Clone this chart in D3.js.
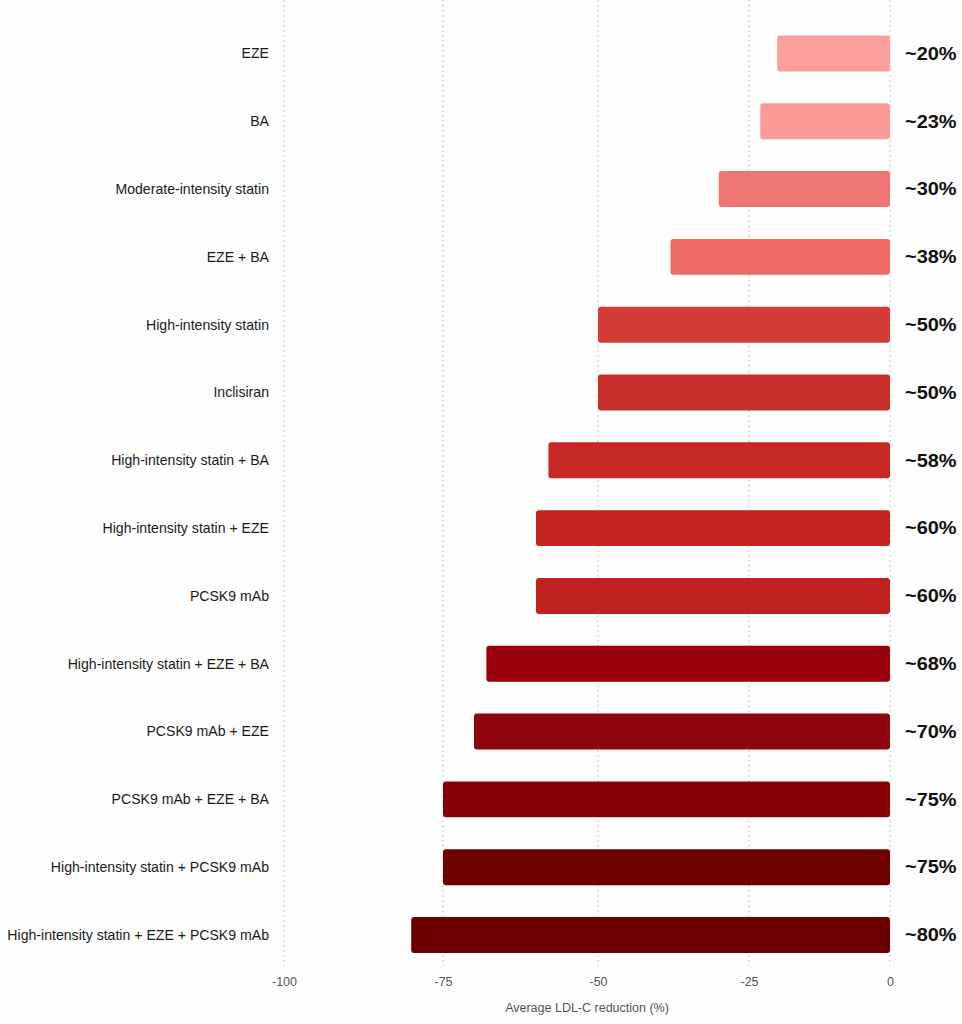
<!DOCTYPE html>
<html><head><meta charset="utf-8">
<script src="https://cdn.jsdelivr.net/npm/d3@7"></script>
<style>
html,body{margin:0;padding:0;background:#fdfdfd;}
svg{display:block;}
</style></head>
<body>
<svg id="chart" width="962" height="1024"></svg>
<script>
// ---- data ----
const categories = [
  "EZE","BA","Moderate-intensity statin","EZE + BA","High-intensity statin","Inclisiran",
  "High-intensity statin + BA","High-intensity statin + EZE","PCSK9 mAb",
  "High-intensity statin + EZE + BA","PCSK9 mAb + EZE","PCSK9 mAb + EZE + BA",
  "High-intensity statin + PCSK9 mAb","High-intensity statin + EZE + PCSK9 mAb"
];
const reductions = [-20,-23,-30,-38,-50,-50,-58,-60,-60,-68,-70,-75,-75,-80];
const valueLabels = ["~20%","~23%","~30%","~38%","~50%","~50%","~58%","~60%","~60%","~68%","~70%","~75%","~75%","~80%"];
const tickValues = [-100,-75,-50,-25,0];
const tickLabels = ["-100","-75","-50","-25","0"];
const axisTitle = "Average LDL-C reduction (%)";

// ---- styles ----
const palette = ["#fc9f9b","#fa9996","#ef7572","#ee6b68","#d63c37","#c92f2a","#c72825",
                 "#c42320","#c2221f","#990008","#8e0610","#870008","#6f0000","#6c0000"];

const svg = d3.select("#chart");

// x scale (piecewise to follow the reference's tick spacing)
const x = d3.scaleLinear().domain(tickValues).range([284, 443, 598, 749, 890]);
const y = d3.scaleBand().domain(categories).range([19.5, 968.9]).paddingInner(0.47).paddingOuter(0.235);

// gridlines
svg.append("g").selectAll("line").data(tickValues).join("line")
  .attr("x1", d => x(d)).attr("x2", d => x(d))
  .attr("y1", 0).attr("y2", 966)
  .attr("stroke", "#c8c8c8").attr("stroke-width", 1)
  .attr("stroke-dasharray", "2,3");

// bars
svg.append("g").selectAll("rect").data(categories).join("rect")
  .attr("x", (d,i) => x(reductions[i]))
  .attr("y", d => y(d))
  .attr("width", (d,i) => x(0) - x(reductions[i]))
  .attr("height", y.bandwidth())
  .attr("rx", 3).attr("ry", 3)
  .attr("fill", (d,i) => palette[i]);

// category labels
svg.append("g").selectAll("text").data(categories).join("text")
  .attr("x", 269)
  .attr("y", d => y(d) + y.bandwidth()/2)
  .attr("dy", "0.35em")
  .attr("text-anchor", "end")
  .attr("font-family", "Liberation Sans, Arial, sans-serif")
  .attr("font-size", 14.1)
  .attr("fill", "#1a1a1a")
  .text(d => d);

// value labels
svg.append("g").selectAll("text").data(categories).join("text")
  .attr("transform", d => `translate(905,${y(d) + y.bandwidth()/2}) scale(1.14,1)`)
  .attr("dy", "0.36em")
  .attr("font-family", "Liberation Sans, Arial, sans-serif")
  .attr("font-size", 17.5)
  .attr("font-weight", "bold")
  .attr("fill", "#111")
  .text((d,i) => valueLabels[i]);

// x axis
const axis = d3.axisBottom(x).tickValues(tickValues).tickSize(0).tickPadding(0)
  .tickFormat((d,i) => tickLabels[i]);
const ga = svg.append("g").attr("transform", "translate(0,977)").call(axis);
ga.select(".domain").remove();
ga.selectAll("text")
  .attr("font-family", "Liberation Sans, Arial, sans-serif")
  .attr("font-size", 12.5)
  .attr("fill", "#555");

svg.append("text")
  .attr("x", 587).attr("y", 1012)
  .attr("text-anchor", "middle")
  .attr("font-family", "Liberation Sans, Arial, sans-serif")
  .attr("font-size", 12.5)
  .attr("fill", "#555")
  .text(axisTitle);
</script>
</body></html>
